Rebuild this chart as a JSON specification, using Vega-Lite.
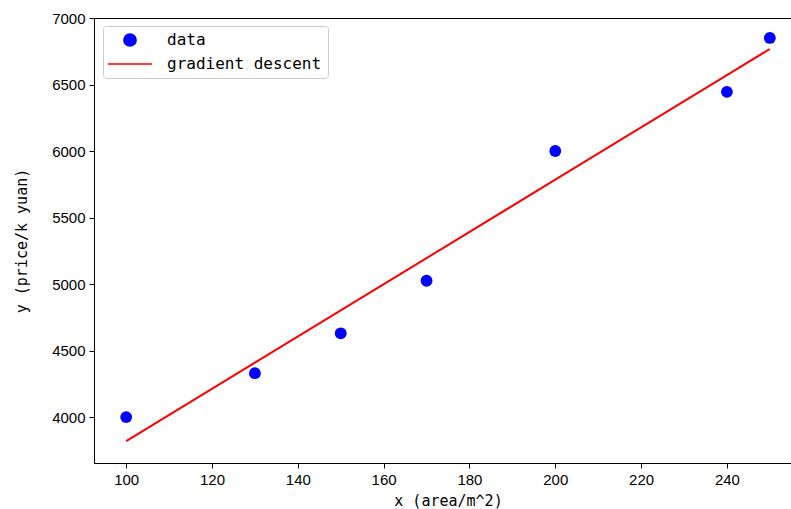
{
  "$schema": "https://vega.github.io/schema/vega-lite/v6.json",
  "autosize": "none",
  "width": 708,
  "height": 445,
  "padding": {"left": 94, "top": 18, "right": 0, "bottom": 46},
  "background": "white",
  "config": {
    "view": {"stroke": "black", "strokeWidth": 1},
    "axis": {
      "grid": false,
      "domainColor": "black",
      "tickColor": "black",
      "tickSize": 5,
      "labelFont": "Liberation Sans",
      "labelFontSize": 15,
      "labelColor": "black",
      "labelPadding": 4,
      "titleFont": "DejaVu Sans Mono",
      "titleFontSize": 15,
      "titleFontWeight": "normal",
      "titleColor": "black"
    }
  },
  "layer": [
    {
      "data": {"values": [
        {"x": 100, "y": 4000, "series": "data"},
        {"x": 130, "y": 4330, "series": "data"},
        {"x": 150, "y": 4630, "series": "data"},
        {"x": 170, "y": 5025, "series": "data"},
        {"x": 200, "y": 6000, "series": "data"},
        {"x": 240, "y": 6445, "series": "data"},
        {"x": 250, "y": 6850, "series": "data"}
      ]},
      "mark": {"type": "point", "filled": true, "opacity": 1, "size": 140},
      "encoding": {
        "x": {"field": "x", "type": "quantitative", "scale": {"domain": [92.5, 257.5], "nice": false, "zero": false}, "axis": {"values": [100, 120, 140, 160, 180, 200, 220, 240], "format": "d", "title": "x (area/m^2)", "titlePadding": 6}},
        "y": {"field": "y", "type": "quantitative", "scale": {"domain": [3655, 7000], "nice": false, "zero": false}, "axis": {"values": [4000, 4500, 5000, 5500, 6000, 6500, 7000], "format": "d", "title": "y (price/k yuan)", "titlePadding": 22}},
        "color": {"field": "series", "type": "nominal", "scale": {"domain": ["data", "gradient descent"], "range": ["#0000ff", "#ff0000"]},
          "legend": {
            "title": null,
            "orient": "none",
            "legendX": 9,
            "legendY": 8,
            "padding": 6,
            "fillColor": "white",
            "strokeColor": "#cccccc",
            "cornerRadius": 3,
            "labelFont": "DejaVu Sans Mono",
            "labelFontSize": 16,
            "labelColor": "black",
            "symbolSize": 150,
            "symbolOffset": 13,
            "labelOffset": 29,
            "rowPadding": 6,
            "offset": 0,
            "encode": {
              "symbols": {"update": {
                "stroke": {"scale": "color", "field": "value"},
                "strokeWidth": {"signal": "datum.value === 'data' ? 0 : 2"},
                "fillOpacity": {"value": 1},
                "opacity": {"value": 1}
              }}
            }
          }},
        "shape": {"field": "series", "type": "nominal", "scale": {"domain": ["data", "gradient descent"], "range": ["circle", "M-3.6,0H3.6"]}, "legend": {"title": null}}
      }
    },
    {
      "data": {"values": [
        {"x": 100, "y": 3820, "series": "gradient descent"},
        {"x": 130, "y": 4409, "series": "gradient descent"},
        {"x": 150, "y": 4802, "series": "gradient descent"},
        {"x": 170, "y": 5195, "series": "gradient descent"},
        {"x": 200, "y": 5785, "series": "gradient descent"},
        {"x": 240, "y": 6571, "series": "gradient descent"},
        {"x": 250, "y": 6767, "series": "gradient descent"}
      ]},
      "mark": {"type": "line", "strokeWidth": 2},
      "encoding": {
        "x": {"field": "x", "type": "quantitative"},
        "y": {"field": "y", "type": "quantitative"},
        "color": {"field": "series", "type": "nominal"}
      }
    }
  ]
}
